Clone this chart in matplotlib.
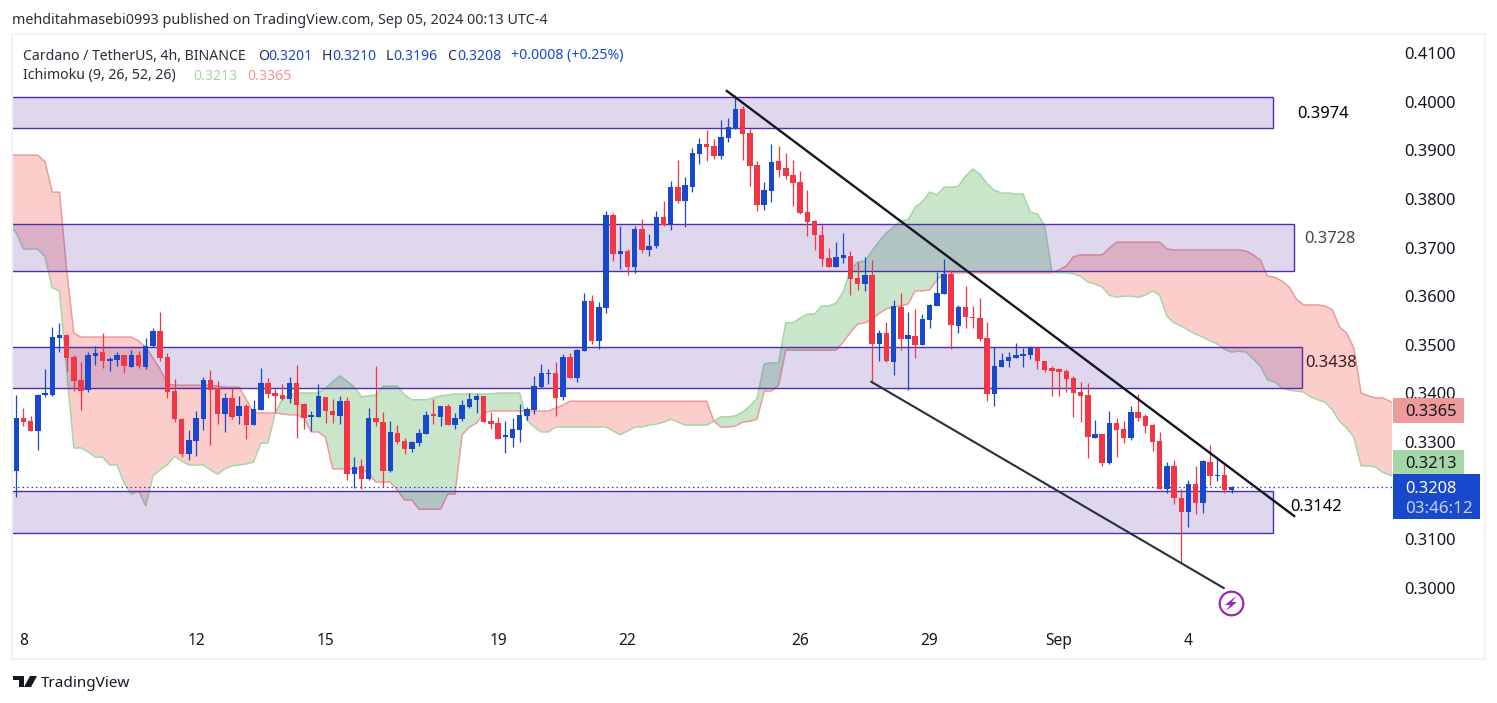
import numpy as np
import matplotlib
matplotlib.use('Agg')
import matplotlib.pyplot as plt
from matplotlib.patches import Rectangle, Polygon, Circle
from matplotlib.transforms import blended_transform_factory

W, H = 1497, 703
plt.rcParams['font.family'] = ['Noto Sans', 'DejaVu Sans']

# 4h candles
opens = [.3241,.3350,.3343,.3323,.3397,.3397,.3514,.3520,.3475,.3428,
         .3407,.3477,.3485,.3467,.3469,.3479,.3454,.3479,.3454,.3498,
         .3528,.3475,.3405,.3347,.3276,.3302,.3347,.3428,.3411,.3358,
         .3391,.3354,.3374,.3335,.3366,.3421,.3401,.3397,.3389,.3421,
         .3378,.3352,.3352,.3393,.3364,.3354,.3384,.3234,.3251,.3224,
         .3350,.3341,.3241,.3319,.3302,.3286,.3298,.3317,.3356,.3352,
         .3374,.3335,.3347,.3372,.3387,.3395,.3343,.3339,.3311,.3309,
         .3325,.3354,.3366,.3413,.3440,.3442,.3393,.3475,.3432,.3487,
         .3590,.3508,.3576,.3767,.3687,.3693,.3660,.3738,.3695,.3703,
         .3763,.3747,.3825,.3796,.3825,.3892,.3913,.3909,.3888,.3925,
         .3944,.3985,.3935,.3870,.3788,.3816,.3878,.3864,.3849,.3835,
         .3773,.3755,.3726,.3679,.3660,.3679,.3683,.3637,.3625,.3644,
         .3502,.3524,.3465,.3578,.3512,.3518,.3500,.3551,.3580,.3605,
         .3646,.3539,.3578,.3557,.3555,.3514,.3399,.3454,.3467,.3473,
         .3477,.3479,.3493,.3467,.3452,.3450,.3446,.3432,.3403,.3397,
         .3309,.3317,.3257,.3339,.3327,.3309,.3362,.3354,.3335,.3302,
         .3204,.3251,.3185,.3156,.3214,.3175,.3259,.3230,.3232,.3201]
highs = [.3397,.3370,.3354,.3399,.3450,.3537,.3545,.3522,.3479,.3465,
         .3485,.3498,.3524,.3475,.3485,.3479,.3489,.3487,.3514,.3535,
         .3567,.3483,.3430,.3350,.3325,.3364,.3434,.3448,.3426,.3401,
         .3411,.3395,.3378,.3387,.3452,.3432,.3409,.3419,.3434,.3458,
         .3380,.3364,.3419,.3393,.3389,.3395,.3393,.3269,.3265,.3370,
         .3456,.3362,.3343,.3335,.3309,.3302,.3327,.3364,.3389,.3374,
         .3378,.3360,.3387,.3401,.3399,.3395,.3362,.3352,.3343,.3350,
         .3378,.3372,.3436,.3460,.3450,.3465,.3481,.3483,.3491,.3606,
         .3602,.3588,.3775,.3771,.3744,.3697,.3744,.3759,.3728,.3775,
         .3796,.3837,.3880,.3845,.3905,.3925,.3942,.3923,.3962,.3966,
         .4014,.3991,.3944,.3878,.3835,.3913,.3909,.3894,.3880,.3857,
         .3818,.3757,.3747,.3699,.3712,.3730,.3693,.3671,.3681,.3674,
         .3531,.3547,.3592,.3607,.3568,.3574,.3563,.3584,.3650,.3676,
         .3654,.3582,.3621,.3580,.3596,.3547,.3496,.3483,.3485,.3504,
         .3493,.3498,.3493,.3467,.3457,.3450,.3450,.3436,.3424,.3422,
         .3346,.3317,.3364,.3350,.3343,.3374,.3399,.3358,.3337,.3321,
         .3259,.3263,.3204,.3222,.3251,.3263,.3294,.3265,.3257,.3210]
lows = [.3188,.3333,.3323,.3284,.3393,.3395,.3485,.3446,.3405,.3366,
        .3403,.3459,.3452,.3446,.3456,.3442,.3454,.3452,.3450,.3495,
        .3467,.3391,.3341,.3269,.3263,.3271,.3325,.3294,.3337,.3321,
        .3347,.3337,.3306,.3335,.3366,.3391,.3362,.3387,.3380,.3308,
        .3327,.3323,.3352,.3339,.3339,.3337,.3222,.3206,.3204,.3222,
        .3333,.3208,.3239,.3296,.3276,.3280,.3292,.3317,.3337,.3333,
        .3335,.3327,.3343,.3370,.3360,.3341,.3327,.3306,.3278,.3290,
        .3300,.3345,.3358,.3411,.3419,.3354,.3387,.3432,.3423,.3487,
        .3502,.3491,.3566,.3672,.3656,.3644,.3648,.3689,.3683,.3699,
        .3744,.3736,.3792,.3742,.3814,.3872,.3878,.3882,.3882,.3917,
        .3944,.3880,.3827,.3775,.3777,.3794,.3845,.3841,.3786,.3769,
        .3724,.3695,.3662,.3660,.3660,.3668,.3603,.3613,.3611,.3422,
        .3467,.3465,.3438,.3489,.3407,.3473,.3500,.3535,.3580,.3605,
        .3491,.3524,.3535,.3535,.3508,.3385,.3374,.3454,.3454,.3473,
        .3454,.3471,.3450,.3444,.3395,.3395,.3403,.3352,.3341,.3267,
        .3309,.3251,.3255,.3270,.3298,.3305,.3344,.3319,.3282,.3204,
        .3195,.3173,.3052,.3125,.3152,.3154,.3212,.3220,.3196,.3196]
closes = [.3350,.3341,.3323,.3397,.3399,.3516,.3520,.3473,.3426,.3405,
          .3479,.3483,.3467,.3469,.3479,.3456,.3479,.3456,.3498,.3528,
          .3473,.3403,.3347,.3276,.3304,.3350,.3428,.3407,.3358,.3391,
          .3352,.3374,.3335,.3368,.3421,.3399,.3395,.3389,.3421,.3376,
          .3350,.3354,.3395,.3364,.3356,.3384,.3234,.3249,.3224,.3350,
          .3341,.3241,.3321,.3300,.3286,.3300,.3319,.3356,.3354,.3374,
          .3335,.3350,.3376,.3389,.3395,.3341,.3337,.3306,.3313,.3327,
          .3356,.3368,.3415,.3442,.3442,.3391,.3475,.3432,.3489,.3590,
          .3508,.3578,.3767,.3687,.3693,.3660,.3738,.3695,.3703,.3763,
          .3747,.3825,.3796,.3829,.3894,.3913,.3907,.3888,.3927,.3948,
          .3985,.3933,.3868,.3788,.3819,.3876,.3860,.3847,.3833,.3771,
          .3753,.3726,.3677,.3660,.3681,.3685,.3635,.3625,.3644,.3502,
          .3524,.3467,.3580,.3512,.3520,.3500,.3553,.3582,.3607,.3646,
          .3541,.3578,.3557,.3555,.3512,.3399,.3457,.3469,.3475,.3479,
          .3481,.3496,.3467,.3448,.3446,.3444,.3430,.3401,.3395,.3311,
          .3317,.3257,.3339,.3325,.3309,.3362,.3350,.3333,.3300,.3204,
          .3251,.3185,.3156,.3214,.3175,.3261,.3230,.3232,.3201,.3208]

# ichimoku cloud edges, bar -1 up to bar 192
span_a = [.3745,
          .3730,.3697,.3697,.3697,.3681,.3617,.3611,.3448,.3288,.3288,
          .3280,.3269,.3269,.3253,.3253,.3216,.3193,.3199,.3169,.3230,
          .3243,.3253,.3271,.3261,.3253,.3253,.3253,.3243,.3234,.3245,
          .3251,.3253,.3255,.3259,.3298,.3298,.3360,.3389,.3397,.3401,
          .3401,.3401,.3401,.3411,.3424,.3436,.3425,.3413,.3393,.3395,
          .3397,.3415,.3415,.3415,.3397,.3387,.3387,.3387,.3391,.3395,
          .3397,.3399,.3399,.3399,.3399,.3399,.3399,.3401,.3401,.3401,
          .3401,.3345,.3331,.3321,.3321,.3331,.3331,.3331,.3331,.3331,
          .3331,.3331,.3331,.3323,.3315,.3323,.3331,.3331,.3335,.3337,
          .3341,.3347,.3341,.3335,.3335,.3335,.3335,.3343,.3352,.3352,
          .3354,.3362,.3374,.3389,.3461,.3463,.3463,.3545,.3545,.3555,
          .3563,.3563,.3580,.3580,.3586,.3609,.3656,.3670,.3672,.3693,
          .3713,.3730,.3742,.3755,.3757,.3783,.3794,.3814,.3808,.3824,
          .3824,.3826,.3847,.3861,.3851,.3831,.3818,.3812,.3812,.3810,
          .3810,.3773,.3769,.3746,.3650,.3648,.3648,.3646,.3641,.3629,
          .3625,.3619,.3602,.3598,.3600,.3600,.3598,.3602,.3611,.3602,
          .3559,.3545,.3539,.3530,.3522,.3516,.3508,.3502,.3491,.3485,
          .3487,.3485,.3471,.3456,.3428,.3424,.3411,.3407,.3405,.3403,
          .3393,.3387,.3382,.3366,.3343,.3329,.3310,.3251,.3251,.3249,
          .3238,.3232,.3228]
span_b = [.3890,
          .3890,.3890,.3890,.3890,.3876,.3814,.3814,.3654,.3524,.3516,
          .3516,.3516,.3516,.3516,.3516,.3516,.3516,.3508,.3495,.3473,
          .3450,.3419,.3417,.3417,.3417,.3417,.3417,.3417,.3415,.3413,
          .3413,.3413,.3387,.3360,.3360,.3360,.3360,.3358,.3356,.3356,
          .3350,.3321,.3321,.3310,.3245,.3245,.3245,.3245,.3245,.3236,
          .3218,.3218,.3218,.3201,.3181,.3181,.3162,.3162,.3162,.3162,
          .3193,.3193,.3315,.3331,.3339,.3360,.3364,.3364,.3364,.3364,
          .3364,.3364,.3364,.3364,.3364,.3370,.3376,.3384,.3384,.3384,
          .3384,.3384,.3384,.3384,.3384,.3384,.3384,.3384,.3384,.3384,
          .3384,.3384,.3384,.3384,.3384,.3384,.3384,.3343,.3331,.3331,
          .3333,.3341,.3343,.3347,.3405,.3405,.3417,.3489,.3489,.3489,
          .3489,.3489,.3489,.3489,.3489,.3506,.3526,.3543,.3545,.3553,
          .3565,.3574,.3578,.3580,.3584,.3611,.3611,.3613,.3633,.3648,
          .3648,.3648,.3648,.3648,.3648,.3648,.3648,.3648,.3648,.3648,
          .3648,.3648,.3648,.3648,.3648,.3654,.3662,.3681,.3685,.3685,
          .3685,.3685,.3699,.3711,.3711,.3711,.3711,.3711,.3711,.3711,
          .3697,.3695,.3695,.3695,.3695,.3695,.3695,.3695,.3695,.3695,
          .3695,.3693,.3685,.3674,.3641,.3639,.3631,.3619,.3594,.3582,
          .3582,.3582,.3580,.3572,.3537,.3524,.3493,.3401,.3395,.3391,
          .3391,.3384,.3375]

# drawn zones and trend lines
zone_tops = [.4010, .3748, .3495, .3199]
zone_bottoms = [.3946, .3652, .3411, .3113]
zone_ends = [174.8, 177.7, 178.8, 174.8]
upper_trend_bars = [98.8, 177.7]
upper_trend_prices = [.4022, .3148]
lower_trend_bars = [118.9, 167.9]
lower_trend_prices = [.3424, .3000]
last_price = .3208

# 0.3200 sits under the price tag in the original
price_ticks = [.30, .31, .33, .34, .35, .36, .37, .38, .39, .40, .41]
time_bars = [1, 25, 43, 67, 85, 109, 127, 145, 163]
time_labels = ['8', '12', '15', '19', '22', '26', '29', 'Sep', '4']

BLUE = '#1848CC'
RED = '#F23645'
PURPLE = '#512DA8'
TEXT = '#131722'
VA = 'center_baseline'


def px(x, y):
    return x / W, 1 - y / H


def fs(p):
    # font px to pt
    return p * 0.72


fig = plt.figure(figsize=(W / 100, H / 100), dpi=100, facecolor='white')

# outer frame of the chart
fig.add_artist(Rectangle(px(12, 659), 1473 / W, 625 / H, transform=fig.transFigure,
                         fill=False, edgecolor='#F0F3FA', linewidth=1.5))

ax = fig.add_axes([13 / W, 1 - 625 / H, 1379 / W, 590 / H])
ax.set_xlim(-0.459, 191.3)
ax.set_ylim(.2924, .4137)
for s in ax.spines.values():
    s.set_visible(False)
ax.set_yticks([])
ax.set_xticks([])

# cloud
bars = np.arange(-1, len(span_a) - 1)
a = np.array(span_a)
b = np.array(span_b)
ax.fill_between(bars, a, b, where=a >= b, interpolate=True, color='#4CAF50', alpha=0.3, linewidth=0, zorder=1)
ax.fill_between(bars, a, b, where=a <= b, interpolate=True, color='#F44336', alpha=0.26, linewidth=0, zorder=1)
ax.plot(bars, a, color='#A5D6A7', lw=1.1, zorder=1.5)
ax.plot(bars, b, color='#EF9A9A', lw=1.1, zorder=1.5)

# zones
for top, bottom, end in zip(zone_tops, zone_bottoms, zone_ends):
    ax.add_patch(Rectangle((-3, bottom), end + 3, top - bottom, facecolor=(81 / 255, 45 / 255, 168 / 255, 0.19),
                           edgecolor=PURPLE, linewidth=1.0, zorder=2))

ax.axhline(last_price, color=BLUE, lw=0.9, ls=(0, (1.2, 2.4)), zorder=2.5)

# candles
idx = np.arange(len(opens))
o = np.array(opens)
c = np.array(closes)
colors = [BLUE if cl >= op else RED for op, cl in zip(opens, closes)]
ax.vlines(idx, lows, highs, colors=colors, linewidth=0.9, zorder=3)
ax.bar(idx, np.maximum(np.abs(c - o), .0003), bottom=np.minimum(o, c), width=0.76, color=colors, linewidth=0, zorder=3.1)

# trend lines
ax.plot(upper_trend_bars, upper_trend_prices, color='#131722', lw=1.7, zorder=4)
ax.plot(lower_trend_bars, lower_trend_prices, color='#2A2E39', lw=1.5, zorder=4)

# price axis
price_trans = blended_transform_factory(fig.transFigure, ax.transData)
for p in price_ticks:
    ax.text(1404 / W, p, f'{p:.4f}', transform=price_trans, ha='left', va=VA, fontsize=fs(16.5),
            color=TEXT, clip_on=False, zorder=5)

# time axis
for bar, lab in zip(time_bars, time_labels):
    ax.text(bar, -14 / 590, lab, transform=ax.get_xaxis_transform(), ha='center', va=VA, fontsize=fs(15.5),
            color=TEXT, clip_on=False, fontweight='bold' if lab == 'Sep' else 'normal')

# tags on the price axis
fig.add_artist(Rectangle(px(1393, 423), 71 / W, 25 / H, transform=fig.transFigure, facecolor='#EF9A9A', edgecolor='none'))
fig.add_artist(Rectangle(px(1393, 475), 71 / W, 25 / H, transform=fig.transFigure, facecolor='#A5D6A7', edgecolor='none'))
fig.add_artist(Rectangle(px(1393, 519), 87 / W, 45 / H, transform=fig.transFigure, facecolor=BLUE, edgecolor='none'))
x, y = px(1405, 410.5)
fig.text(x, y, '0.3365', ha='left', va=VA, fontsize=fs(16.5), color=TEXT)
x, y = px(1405, 462.5)
fig.text(x, y, '0.3213', ha='left', va=VA, fontsize=fs(16.5), color=TEXT)
x, y = px(1405, 487)
fig.text(x, y, '0.3208', ha='left', va=VA, fontsize=fs(16.5), color='white', fontweight='bold')
x, y = px(1405, 507)
fig.text(x, y, '03:46:12', ha='left', va=VA, fontsize=fs(17), color='#C5D2F1')

# level labels
for lx, ly, lab, col in [(1297, 112, '0.3974', '#000000'), (1304, 237, '0.3728', '#434651'),
                         (1305, 361, '0.3438', '#3A1A1A'), (1290, 505, '0.3142', '#000000')]:
    x, y = px(lx, ly)
    fig.text(x, y, lab, ha='left', va=VA, fontsize=fs(16.5), color=col)

# purple lightning mark
fig.add_artist(Circle(px(1231, 603), 0.0001, transform=fig.transFigure, alpha=0))
x, y = px(1231, 603)
ax.plot([x], [y], transform=fig.transFigure, marker='o', ms=17, mfc='white', mec='#9C27B0', mew=1.6, clip_on=False, zorder=6)
bolt = [(1236, 596), (1225, 605), (1230, 605), (1226, 611), (1237, 602), (1232, 602)]
fig.add_artist(Polygon([px(*q) for q in bolt], closed=True, transform=fig.transFigure, facecolor='#9C27B0', edgecolor='none'))

# header and legend
x, y = px(12, 19)
fig.text(x, y, 'mehditahmasebi0993 published on TradingView.com, Sep 05, 2024 00:13 UTC-4',
         ha='left', va=VA, fontsize=fs(14.3), color='#2A2E39')
for lx, ly, lab, col in [(23, 54, 'Cardano / TetherUS, 4h, BINANCE', '#2A2E39'),
                         (258, 54, 'O', '#2A2E39'), (268, 54, '0.3201', BLUE),
                         (322, 54, 'H', '#2A2E39'), (332, 54, '0.3210', BLUE),
                         (386, 54, 'L', '#2A2E39'), (393, 54, '0.3196', BLUE),
                         (447, 54, 'C', '#2A2E39'), (457, 54, '0.3208', BLUE),
                         (511, 54, '+0.0008 (+0.25%)', BLUE),
                         (23, 74, 'Ichimoku (9, 26, 52, 26)', '#2A2E39'),
                         (193, 74, '0.3213', '#A5D6A7'), (247, 74, '0.3365', '#EF9A9A')]:
    x, y = px(lx, ly)
    fig.text(x, y, lab, ha='left', va=VA, fontsize=fs(14.1), color=col)

# footer logo
logo = '#131722'
left_part = [(13, 676), (24, 676), (24, 687), (19, 687), (19, 680), (13, 680)]
slant_part = [(30, 676), (37, 676), (31, 687), (24, 687)]
fig.add_artist(Polygon([px(*q) for q in left_part], closed=True, transform=fig.transFigure, facecolor=logo, edgecolor='none'))
fig.add_artist(Polygon([px(*q) for q in slant_part], closed=True, transform=fig.transFigure, facecolor=logo, edgecolor='none'))
x, y = px(41, 681.5)
fig.text(x, y, 'TradingView', ha='left', va=VA, fontsize=fs(15.3), color=logo, fontweight='medium')

fig.savefig('out.png', dpi=100, facecolor='white')
